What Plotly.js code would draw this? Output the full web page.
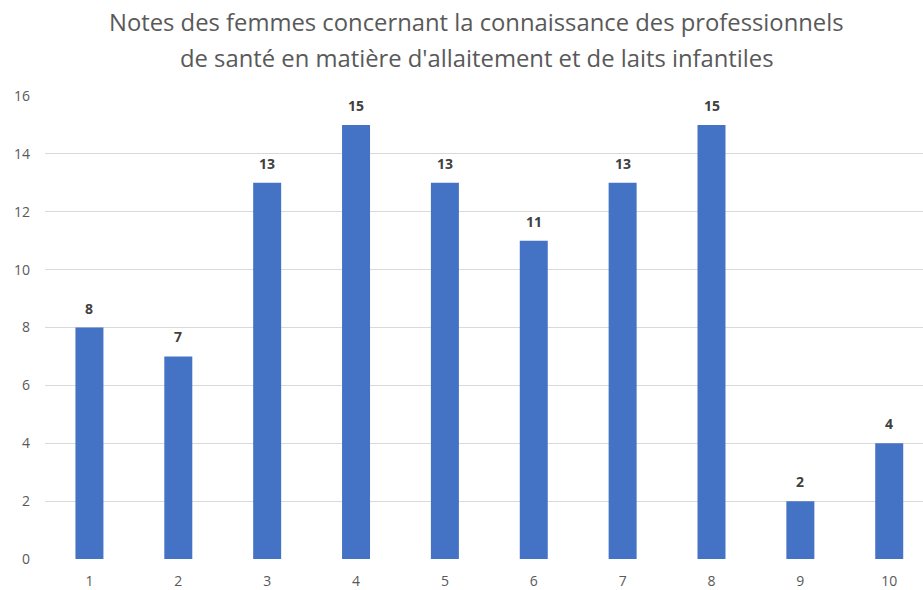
<!DOCTYPE html>
<html>
<head>
<meta charset="utf-8">
<script src="https://cdn.plot.ly/plotly-3.0.1.min.js"></script>
<style>html,body{margin:0;padding:0;background:#fff;}#chart{width:923px;height:590px;}</style>
</head>
<body>
<div id="chart"></div>
<script>
const categories = [1, 2, 3, 4, 5, 6, 7, 8, 9, 10];
const counts = [8, 7, 13, 15, 13, 11, 13, 15, 2, 4];
const yTicks = [0, 2, 4, 6, 8, 10, 12, 14, 16];
const titleLines = [
  "Notes des femmes concernant la connaissance des professionnels",
  "de santé en matière d'allaitement et de laits infantiles"
];

const trace = {
  type: 'bar',
  x: categories,
  y: counts,
  width: 0.315,
  marker: {color: '#4472C4', line: {width: 0}},
  hoverinfo: 'skip'
};

const annotations = categories.map((c, i) => ({
  x: c, y: counts[i], xref: 'x', yref: 'y',
  text: String(counts[i]),
  showarrow: false,
  yanchor: 'bottom',
  yshift: 8,
  font: {family: 'Open Sans, sans-serif', size: 14, color: '#404040', weight: 'bold'}
}));

const titleShifts = [74, 38];
titleLines.forEach((t, i) => {
  annotations.push({
    x: 0.4916, y: 1, xref: 'paper', yref: 'paper',
    xanchor: 'center', yanchor: 'middle',
    yshift: titleShifts[i],
    text: t, showarrow: false,
    font: {family: 'Open Sans, sans-serif', size: 23.8, color: '#595959'}
  });
});

const layout = {
  width: 923, height: 590,
  margin: {l: 44.5, r: 0, t: 96, b: 31},
  paper_bgcolor: '#fff', plot_bgcolor: '#fff',
  showlegend: false,
  xaxis: {
    range: [0.5, 10.38],
    tickvals: categories,
    ticktext: categories.map(String),
    showgrid: false, zeroline: false, showline: false,
    ticks: '', ticklen: 0, ticklabelstandoff: 12,
    tickfont: {family: 'Open Sans, sans-serif', size: 14, color: '#595959'}
  },
  yaxis: {
    range: [0, 16],
    tickvals: yTicks,
    ticktext: yTicks.map(String),
    showgrid: true, gridcolor: '#d9d9d9', gridwidth: 1,
    zeroline: false, showline: false,
    ticks: '', ticklen: 0, ticklabelstandoff: 14,
    tickfont: {family: 'Open Sans, sans-serif', size: 14, color: '#595959'}
  },
  annotations: annotations
};

Plotly.newPlot('chart', [trace], layout, {displayModeBar: false, staticPlot: true});
</script>
</body>
</html>
